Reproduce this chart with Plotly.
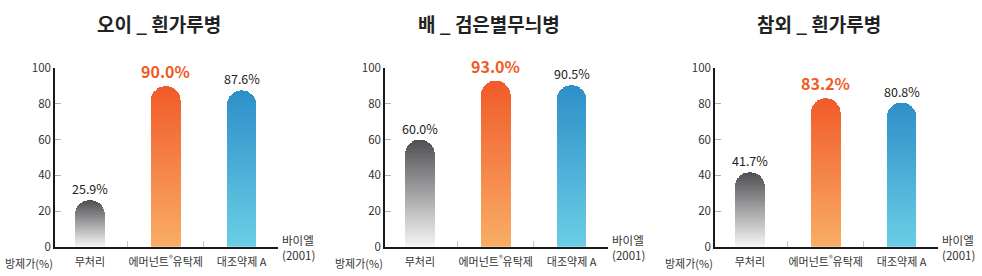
import plotly.graph_objects as go

W, H = 982, 276
FONT = "Noto Sans CJK KR"

titles = ["오이 _ 흰가루병", "배 _ 검은별무늬병", "참외 _ 흰가루병"]
categories = ["무처리", "에머넌트<sup>®</sup>유탁제", "대조약제 A"]
cucumber_values = [25.9, 90.0, 87.6]
pear_values = [60.0, 93.0, 90.5]
melon_values = [41.7, 83.2, 80.8]
panel_values = [cucumber_values, pear_values, melon_values]
highlight_index = 1
y_ticks = [0, 20, 40, 60, 80, 100]
y_title = "방제가(%)"
x_title = "바이엘<br>(2001)"

# gradient colours (top, bottom) per category
top_colors = ["#4f5052", "#f15a29", "#2d8fc8"]
bottom_colors = ["#f6f6f7", "#f9ad66", "#6bcee5"]
N_SEG = 60


def hex2rgb(h):
    h = h.lstrip("#")
    return tuple(int(h[i:i + 2], 16) for i in (0, 2, 4))


def mix(c_top, c_bot, t):  # t = 0 bottom, 1 top
    a, b = hex2rgb(c_top), hex2rgb(c_bot)
    return "rgb({},{},{})".format(*[round(b[i] + (a[i] - b[i]) * t) for i in range(3)])


# pixel layout
panel_step = 330
axis_left, axis_right = 55, 278
y0_px, y100_px = 246.7, 68.3

fig = go.Figure()
layout = dict(
    width=W, height=H, margin=dict(l=0, r=0, t=0, b=0, autoexpand=False),
    paper_bgcolor="white", plot_bgcolor="white",
    barmode="stack", barcornerradius=15, showlegend=False,
    font=dict(family=FONT, color="#333333"),
)
annotations = []

for p, vals in enumerate(panel_values):
    off = p * panel_step
    xa = "x" if p == 0 else f"x{p + 1}"
    ya = "y" if p == 0 else f"y{p + 1}"
    for j in range(N_SEG):
        t = (j + 0.5) / N_SEG
        fig.add_trace(go.Bar(
            x=categories, y=[v / N_SEG for v in vals],
            marker=dict(color=[mix(top_colors[k], bottom_colors[k], t) for k in range(3)],
                        line=dict(width=0)),
            width=0.39, xaxis=xa, yaxis=ya, hoverinfo="skip",
        ))
    kx = "xaxis" if p == 0 else f"xaxis{p + 1}"
    ky = "yaxis" if p == 0 else f"yaxis{p + 1}"
    layout[kx] = dict(
        domain=[(off + axis_left) / W, (off + axis_right) / W],
        type="category", range=[-0.46, 2.48], anchor=ya, automargin=False,
        showline=True, linecolor="#1a1a1a", linewidth=1.5,
        ticks="inside", tickson="boundaries", ticklen=6, tickcolor="#c8c8c8", tickwidth=1,
        showgrid=False, zeroline=False, tickangle=0,
        tickfont=dict(size=11, color="#333333", family=FONT),
        ticklabelstandoff=4,
    )
    layout[ky] = dict(
        domain=[1 - y0_px / H, 1 - y100_px / H], range=[0, 100], anchor=xa, automargin=False,
        tickvals=y_ticks, showline=True, linecolor="#1a1a1a", linewidth=1.5,
        ticks="inside", ticklen=6, tickcolor="#b0b0b0", tickwidth=1,
        showgrid=False, zeroline=False,
        tickfont=dict(size=11.5, color="#333333", family=FONT),
    )
    # title
    annotations.append(dict(
        text=f"<b>{titles[p]}</b>", x=(off + 158.5) / W, y=1 - 23 / H,
        xref="paper", yref="paper", xanchor="center", yanchor="middle",
        showarrow=False, font=dict(size=19, color="#222222", family=FONT),
    ))
    # value labels
    for k, v in enumerate(vals):
        hi = k == highlight_index
        annotations.append(dict(
            text=(f"<b>{v:.1f}%</b>" if hi else f"{v:.1f}%"),
            x=categories[k], y=v, xref=xa, yref=ya,
            xanchor="center", yanchor="bottom", yshift=1 if hi else 0,
            showarrow=False,
            font=dict(size=16 if hi else 12.5, color="#f15a24" if hi else "#222222", family=FONT),
        ))
    # y title
    annotations.append(dict(
        text=y_title, x=(off + 3) / W, y=1 - 263 / H, xref="paper", yref="paper",
        xanchor="left", yanchor="middle", showarrow=False,
        font=dict(size=11, color="#333333", family=FONT),
    ))
    # x title
    annotations.append(dict(
        text=x_title, x=(off + 280) / W, y=1 - 247 / H, xref="paper", yref="paper",
        xanchor="left", yanchor="middle", align="left", showarrow=False,
        font=dict(size=11.5, color="#333333", family=FONT),
    ))

layout["annotations"] = annotations
fig.update_layout(**layout)
fig.write_html("out.html")
